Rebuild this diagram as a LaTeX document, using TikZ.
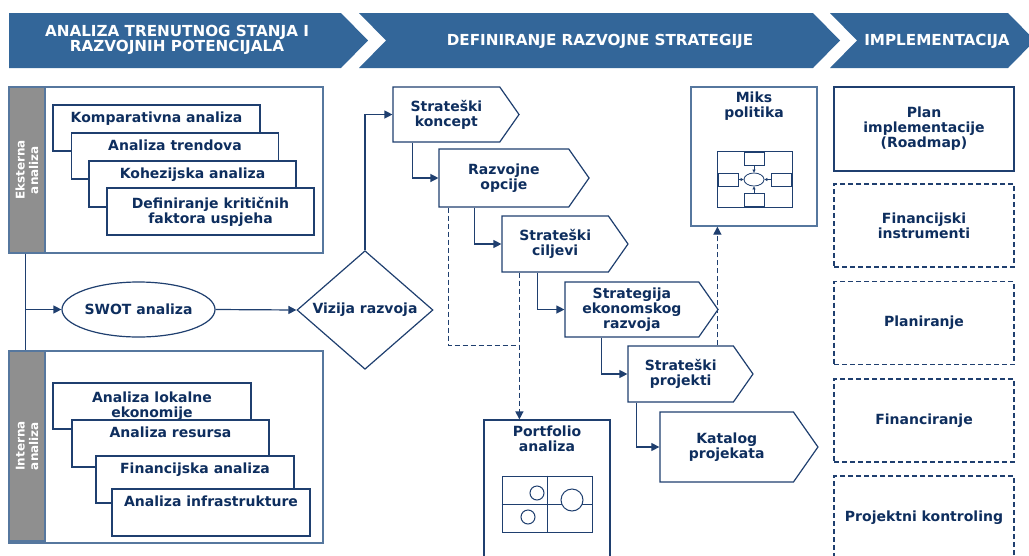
\documentclass[tikz,border=0pt]{standalone}
\usepackage{fontspec}
\setmainfont{DejaVu Sans}
\usepackage{xcolor}
\definecolor{navy}{HTML}{0E2E5E}
\definecolor{edge}{HTML}{1F3F6F}
\definecolor{rim}{HTML}{56779E}
\definecolor{band}{HTML}{336699}
\definecolor{bar}{HTML}{8F8F8F}
\usetikzlibrary{shapes,shapes.geometric,shapes.symbols,arrows.meta,calc,positioning}
\tikzset{
    x=1pt, y=-1pt,
    txt/.style = {font=\fontsize{14}{15}\selectfont\bfseries, text=navy, align=center, inner sep=0pt},
    head/.style = {font=\fontsize{15.2}{13}\selectfont\bfseries, text=white, align=center, inner sep=0pt},
    box/.style = {txt, draw=edge, fill=white},
    outer/.style = {draw=rim, fill=white, inner sep=0pt},
    sidebar/.style = {font=\fontsize{12}{13.5}\selectfont\bfseries, text=white, align=center,
        fill=bar, draw=rim, rotate=90, minimum height=36pt, inner sep=0pt},
    stack/.style = {box, minimum width=207pt, minimum height=46pt},
    oneline/.style = {text height=10pt, text depth=22pt},
    sig/.style = {box, signal, signal to=east, signal pointer angle=110},
    dbox/.style = {box, dash pattern=on 5pt off 3pt},
    conn/.style = {draw=edge, -{Triangle[length=8pt,width=8pt]}},
    dconn/.style = {conn, dash pattern=on 5pt off 3pt},
    mini/.style = {draw=edge, line width=0.8pt, minimum width=20pt, minimum height=13pt, inner sep=0pt},
    tiny/.style = {draw=edge, line width=0.8pt, -{Triangle[length=3pt,width=3pt]}}
}
\begin{document}
\begin{tikzpicture}[line width=1.2pt]
    \useasboundingbox (0,0) rectangle (1029,555);
    \clip (0,0) rectangle (1029,555);

    % phase banner
    \fill[band] (9,13) -- (341,13) -- (368,40.5) -- (341,68) -- (9,68) -- cycle;
    \fill[band] (359,13) -- (813,13) -- (840,40.5) -- (813,68) -- (359,68) -- (386,40.5) -- cycle;
    \fill[band] (830,13) -- (1008,13) -- (1035,40.5) -- (1008,68) -- (830,68) -- (857,40.5) -- cycle;
    \node[head] (h1) at (177,40) {ANALIZA TRENUTNOG STANJA I\\RAZVOJNIH POTENCIJALA};
    \node[head] (h2) at (600,41) {DEFINIRANJE RAZVOJNE STRATEGIJE};
    \node[head] (h3) at (937,41) {IMPLEMENTACIJA};

    % eksterna analiza
    \node[outer, minimum width=314pt, minimum height=166pt] (ext) at (166,170) {};
    \node[sidebar, minimum width=166pt] (extbar) at (27,170) {Eksterna\\analiza};
    \node[stack, oneline] (k1) at (156.5,128) {Komparativna analiza};
    \node[stack, oneline] (k2) at (175,156) {Analiza trendova};
    \node[stack, oneline] (k3) at (192.5,184) {Kohezijska analiza};
    \node[stack, minimum height=47pt] (k4) at (210.5,211.5) {Definiranje kritičnih\\faktora uspjeha};

    % interna analiza
    \node[outer, minimum width=314pt, minimum height=192pt] (int) at (166,447) {};
    \node[sidebar, minimum width=190pt] (intbar) at (27,446) {Interna\\analiza};
    \node[stack, minimum width=198pt] (i1) at (152,406) {Analiza lokalne\\ekonomije};
    \node[stack, oneline, minimum width=197pt, minimum height=47pt] (i2) at (170.5,443.5) {Analiza resursa};
    \node[stack, oneline, minimum width=198pt, minimum height=47pt] (i3) at (195,479.5) {Financijska analiza};
    \node[stack, oneline, minimum width=198pt, minimum height=47pt] (i4) at (211,512.5) {Analiza infrastrukture};

    % swot and vision
    \node[box, ellipse, minimum width=153pt, minimum height=55pt] (swot) at (138.5,309.5) {SWOT analiza};
    \node[box, diamond, minimum width=136pt, minimum height=113pt] (viz) at (365,310) {Vizija razvoja};

    % strategy steps
    \node[sig, minimum width=126pt, minimum height=55pt] (kon) at (446.4,114.5) {Strateški\\koncept};
    \node[sig, minimum width=150pt, minimum height=58pt] (opc) at (503.9,178) {Razvojne\\opcije};
    \node[sig, minimum width=126pt, minimum height=56pt] (cil) at (555.2,244) {Strateški\\ciljevi};
    \node[sig, minimum width=153pt, minimum height=55pt] (seg) at (631.9,309.5) {Strategija\\ekonomskog\\razvoja};
    \node[sig, minimum width=125pt, minimum height=56pt] (prj) at (680.7,374) {Strateški\\projekti};
    \node[sig, minimum width=158pt, minimum height=70pt] (kat) at (726.7,447) {Katalog\\projekata};

    % portfolio
    \node[outer, draw=edge, minimum width=126pt, minimum height=155pt] (port) at (547,497.5) {};
    \node[txt, anchor=north] (portT) at ([yshift=-6pt]port.north) {Portfolio\\analiza};
    \node[draw=edge, line width=1pt, minimum width=90pt, minimum height=56pt, inner sep=0pt] (pmat) at (547,504) {};
    \draw[edge, line width=1pt] (pmat.north) -- (pmat.south);
    \draw[edge, line width=1pt] (pmat.west) -- (pmat.east);
    \draw[edge, line width=1pt] (537,493) circle[radius=7];
    \draw[edge, line width=1pt, fill=white] (572,500) circle[radius=11];
    \draw[edge, line width=1pt] (528,517) circle[radius=7];

    % miks politika
    \node[outer, minimum width=126pt, minimum height=139pt] (miks) at (754,156.5) {};
    \node[txt, anchor=north] (miksT) at ([yshift=-5pt]miks.north) {Miks\\politika};
    \node[draw=edge, line width=1pt, minimum width=75pt, minimum height=56pt, inner sep=0pt] (mfig) at (754.5,179) {};
    \node[mini, ellipse] (mc) at (754,179.5) {};
    \node[mini] (mt) at (754,158.5) {};
    \node[mini] (mb) at (754,200) {};
    \node[mini] (ml) at (728,179.5) {};
    \node[mini] (mr) at (781,179.5) {};
    \foreach \m in {mt,mb,ml,mr} \draw[tiny] (\m) -- (mc);

    % implementacija
    \node[box, minimum width=180pt, minimum height=84pt] (plan) at (924,129) {Plan\\implementacije\\(Roadmap)};
    \node[dbox, minimum width=180pt, minimum height=83pt] (fin) at (924,225.5) {Financijski\\instrumenti};
    \node[dbox, minimum width=180pt, minimum height=83pt] (pla) at (924,323) {Planiranje};
    \node[dbox, minimum width=180pt, minimum height=83pt] (fcr) at (924,420.5) {Financiranje};
    \node[dbox, minimum width=180pt, minimum height=83pt] (kon2) at (924,517.5) {Projektni kontroling};

    % connectors
    \coordinate (spine) at ([xshift=17pt]ext.south west);
    \draw[edge] (spine) -- (spine |- int.north);
    \draw[conn] (spine |- swot.west) -- (swot.west);
    \draw[conn] (swot.east) -- (viz.west);
    \draw[conn] (viz.north) |- (kon.west);
    \draw[conn] ([xshift=20pt]kon.south west) |- (opc.west);
    \draw[conn] ([xshift=36pt]opc.south west) |- (cil.west);
    \draw[conn] ([xshift=36pt]cil.south west) |- (seg.west);
    \draw[conn] ([xshift=37pt]seg.south west) |- (prj.west);
    \draw[conn] ([xshift=9pt]prj.south west) |- (kat.west);

    \coordinate (dcil) at ([xshift=18pt]cil.south west);
    \draw[edge, dash pattern=on 5pt off 3pt] ([xshift=10pt]opc.south west) |- (dcil |- prj.north);
    \draw[dconn] (dcil) -- (dcil |- port.north);
    \coordinate (dprj) at ([xshift=90pt]prj.north west);
    \draw[dconn] (dprj) -- (dprj |- miks.south);
\end{tikzpicture}
\end{document}
